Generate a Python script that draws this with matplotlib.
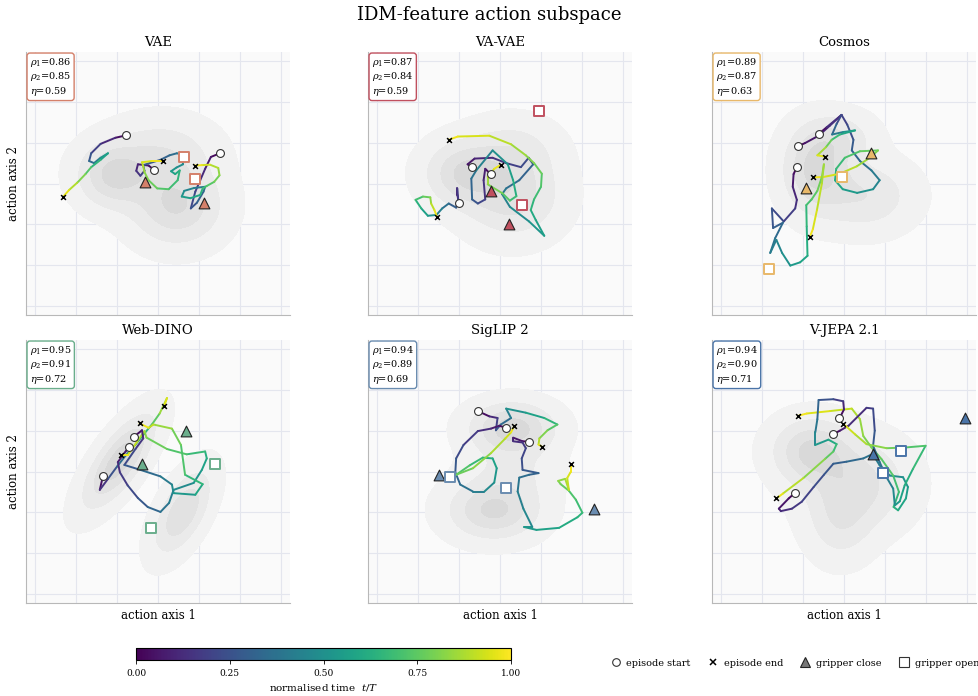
import numpy as np
import matplotlib.pyplot as plt
from matplotlib.collections import LineCollection
from matplotlib.lines import Line2D
from matplotlib.cm import ScalarMappable
from matplotlib.colors import Normalize

plt.rcParams["font.family"] = "DejaVu Serif"
plt.rcParams["mathtext.fontset"] = "dejavuserif"

MODELS = ["VAE", "VA-VAE", "Cosmos", "Web-DINO", "SigLIP 2", "V-JEPA 2.1"]
RHO1 = [0.86, 0.87, 0.89, 0.95, 0.94, 0.94]
RHO2 = [0.85, 0.84, 0.87, 0.91, 0.89, 0.90]
ETA = [0.59, 0.59, 0.63, 0.72, 0.69, 0.71]
MODEL_COLORS = ["#d4806a", "#c0505f", "#e8b86a", "#6aae8c", "#6a8cb0", "#4a74a8"]

# episodes: (action axis 1, action axis 2) from start to end
VAE_EPISODES = [
    [(-0.77, 1.18), (-1.04, 1.12), (-1.40, 0.97), (-1.63, 0.74), (-1.68, 0.55),
     (-1.56, 0.50), (-1.40, 0.63), (-1.22, 0.74), (-1.40, 0.58), (-1.63, 0.40),
     (-1.77, 0.23), (-1.97, 0.02), (-2.17, -0.16), (-2.31, -0.32)],
    [(-0.09, 0.33), (-0.23, 0.44), (-0.49, 0.47), (-0.53, 0.31), (-0.43, 0.19),
     (-0.33, 0.31), (-0.36, 0.45), (0.06, 0.58), (0.28, 0.69), (0.46, 0.74),
     (0.58, 0.71), (0.61, 0.47), (0.45, 0.39), (0.32, 0.30), (0.42, 0.23),
     (0.53, 0.32), (0.48, 0.08), (0.26, -0.14), (-0.02, -0.12), (-0.23, 0.08),
     (-0.33, 0.28), (-0.36, 0.42), (-0.39, 0.52), (-0.15, 0.55), (0.12, 0.55)],
    [(1.51, 0.74), (1.29, 0.65), (1.15, 0.36), (1.03, 0.08), (0.91, -0.20),
     (0.80, -0.61), (0.95, -0.47), (1.11, -0.20), (1.15, -0.08), (0.88, -0.11),
     (0.64, -0.18), (0.58, -0.32), (0.79, -0.36), (1.03, -0.28), (1.09, -0.12),
     (1.19, -0.06), (1.37, 0.04), (1.50, 0.20), (1.47, 0.38), (1.27, 0.46),
     (1.07, 0.45), (0.90, 0.44)],
]
VAE_CLOSE = [(-0.31, 0.04), (1.13, -0.47)]
VAE_OPEN = [(0.64, 0.64), (0.90, 0.10)]

VAVAE_EPISODES = [
    [(-1.00, -0.48), (-1.04, -0.28), (-1.04, -0.12), (-1.02, -0.40), (-1.07, -0.59),
     (-1.25, -0.49), (-1.41, -0.61), (-1.55, -0.77), (-1.76, -0.79), (-1.92, -0.61),
     (-2.06, -0.40), (-1.88, -0.32), (-1.70, -0.34), (-1.68, -0.49), (-1.60, -0.65),
     (-1.54, -0.81)],
    [(-0.68, 0.40), (-0.79, 0.47), (-0.62, 0.61), (-0.18, 0.63), (0.15, 0.50),
     (0.51, 0.40), (0.70, 0.63), (0.81, 0.47), (0.47, 0.08), (0.15, -0.12),
     (0.05, -0.26), (0.24, -0.57), (0.71, -0.93), (1.08, -1.28), (0.87, -0.89),
     (0.75, -0.65), (0.83, -0.39), (1.00, -0.08), (1.02, 0.24), (0.83, 0.50),
     (0.63, 0.69), (0.27, 0.96), (-0.26, 1.17), (-1.03, 1.15), (-1.25, 1.07)],
    [(-0.23, 0.23), (-0.36, 0.36), (-0.40, 0.08), (-0.36, -0.39), (-0.54, -0.49),
     (-0.68, -0.39), (-0.70, 0.12), (-0.58, 0.32), (-0.18, 0.81), (0.19, 0.47),
     (0.32, 0.08), (0.40, -0.31), (0.24, -0.42), (0.06, -0.24), (-0.30, -0.02),
     (-0.30, 0.16), (-0.14, 0.36), (0.02, 0.46)],
]
VAVAE_CLOSE = [(-0.23, -0.19), (0.22, -1.00)]
VAVAE_OPEN = [(0.94, 1.77), (0.53, -0.52)]

COSMOS_EPISODES = [
    [(-1.13, 0.91), (-0.95, 0.99), (-0.62, 1.17), (-0.34, 1.42), (-0.06, 1.68),
     (0.08, 1.44), (0.23, 1.07), (0.19, 0.81), (0.39, 0.55), (0.67, 0.32),
     (0.87, 0.08), (0.71, -0.14), (0.32, -0.23), (-0.03, -0.14), (-0.22, 0.08),
     (-0.19, 0.36), (0.02, 0.63), (0.39, 0.79), (0.83, 0.81), (0.63, 0.63),
     (0.31, 0.42), (-0.10, 0.24), (-0.50, 0.16), (-0.76, 0.15)],
    [(-0.62, 1.21), (-0.42, 1.38), (-0.06, 1.68), (-0.18, 1.46), (-0.29, 1.20),
     (-0.02, 1.26), (0.27, 1.30), (-0.10, 1.20), (-0.30, 1.07), (-0.44, 0.89),
     (-0.65, 0.69), (-0.47, 0.66)],
    [(-1.15, 0.40), (-1.23, 0.23), (-1.25, -0.08), (-1.15, -0.40), (-1.19, -0.61),
     (-1.47, -0.93), (-1.76, -0.61), (-1.73, -1.09), (-1.49, -0.96), (-1.68, -1.34),
     (-1.80, -1.70), (-1.65, -1.38), (-1.51, -1.70), (-1.31, -2.01), (-1.07, -1.93),
     (-0.89, -1.77), (-0.91, -1.05), (-0.92, -0.53), (-0.79, -0.39), (-0.65, -0.18),
     (-0.54, 0.16), (-0.49, 0.47), (-0.54, 0.00), (-0.66, -0.65), (-0.76, -1.12),
     (-0.83, -1.30)],
]
COSMOS_CLOSE = [(-0.92, -0.11), (0.67, 0.74)]
COSMOS_OPEN = [(-0.04, 0.17), (-1.84, -2.09)]

WEBDINO_EPISODES = [
    [(-1.34, -0.10), (-1.42, -0.45), (-1.22, -0.18), (-1.00, 0.12), (-0.79, 0.39),
     (-0.55, 0.66), (-0.35, 0.91), (-0.15, 1.15), (0.04, 1.42), (0.22, 1.80),
     (0.15, 1.60)],
    [(-0.70, 0.61), (-0.79, 0.49), (-0.98, 0.23), (-0.93, -0.02), (-0.74, -0.34),
     (-0.49, -0.65), (-0.25, -0.87), (0.06, -0.99), (0.27, -0.77), (0.38, -0.45),
     (0.87, -0.28), (1.07, 0.04), (1.19, 0.32), (1.15, 0.49), (0.70, 0.42),
     (0.22, 0.55), (-0.28, 0.83), (-0.33, 0.99), (-0.51, 0.73), (-0.74, 0.40),
     (-0.91, 0.40)],
    [(-0.59, 0.85), (-0.39, 1.01), (-0.36, 0.81), (-0.55, 0.55), (-0.82, 0.16),
     (-0.43, 0.04), (0.06, -0.12), (0.34, -0.32), (0.38, -0.53), (0.91, -0.57),
     (1.09, -0.31), (0.66, -0.08), (0.56, 0.65), (0.34, 1.05), (-0.11, 1.15),
     (-0.23, 1.07), (-0.45, 1.18)],
]
WEBDINO_CLOSE = [(0.68, 0.99), (-0.40, 0.18)]
WEBDINO_OPEN = [(1.38, 0.18), (-0.17, -1.39)]

SIGLIP_EPISODES = [
    [(-0.54, 1.48), (-0.26, 1.35), (-0.06, 1.31), (-0.10, 1.01), (0.02, 1.15),
     (0.27, 1.31), (0.15, 1.54), (0.63, 1.44), (1.08, 1.31), (1.40, 1.15),
     (1.16, 1.01), (0.96, 0.81), (0.94, 0.66), (1.02, 0.61)],
    [(0.15, 1.07), (-0.02, 1.12), (-0.22, 1.05), (-0.54, 0.99), (-0.89, 0.65),
     (-1.07, 0.32), (-1.09, -0.02), (-0.97, -0.32), (-0.66, -0.49), (-0.38, -0.49),
     (-0.14, -0.27), (-0.08, 0.08), (-0.18, 0.32), (-0.42, 0.34), (-0.74, 0.15),
     (-1.07, -0.08), (-0.66, 0.08), (-0.22, 0.45), (0.13, 0.81), (0.27, 0.96),
     (0.35, 1.12)],
    [(0.71, 0.73), (0.55, 0.74), (0.32, 0.83), (0.32, 0.74), (0.55, 0.71),
     (0.63, 0.57), (0.53, 0.32), (0.55, 0.04), (0.94, -0.04), (0.71, -0.08),
     (0.47, -0.15), (0.43, -0.49), (0.57, -0.91), (0.79, -1.36), (0.59, -1.36),
     (0.89, -1.43), (1.44, -1.38), (1.89, -1.12), (2.01, -1.01), (1.85, -0.69),
     (1.68, -0.47), (1.48, -0.31), (1.42, -0.23), (1.59, -0.18), (1.68, -0.45),
     (1.64, -0.16), (1.73, 0.00), (1.73, 0.19)],
]
SIGLIP_CLOSE = [(-1.50, -0.08), (2.29, -0.93)]
SIGLIP_OPEN = [(-1.23, -0.14), (0.15, -0.40)]

VJEPA_EPISODES = [
    [(-1.19, -0.52), (-1.35, -0.66), (-1.59, -0.91), (-1.54, -0.97), (-1.27, -0.91),
     (-1.03, -0.74), (-0.74, -0.38), (-0.49, -0.08), (-0.26, 0.19), (0.06, 0.24),
     (0.47, 0.32), (0.70, 0.43), (0.87, 0.15), (1.12, -0.10), (1.44, -0.14),
     (1.56, -0.38), (1.51, -0.66), (1.32, -0.95), (1.21, -0.87), (1.34, -0.50),
     (1.20, -0.10), (0.91, 0.31), (0.67, 0.59), (0.47, 0.87), (0.39, 1.28),
     (0.19, 1.54), (-0.34, 1.48), (-0.91, 1.42), (-1.13, 1.36)],
    [(-0.11, 1.30), (0.00, 1.52), (-0.02, 1.72), (-0.26, 1.77), (-0.62, 1.75),
     (-0.65, 1.28), (-0.70, 0.96), (-0.70, 0.65), (-0.38, 0.78), (-0.18, 0.67),
     (-0.26, 0.49), (-0.46, 0.31), (-0.99, -0.16), (-1.49, -0.54), (-1.65, -0.66)],
    [(-0.27, 0.91), (-0.10, 1.00), (0.11, 1.12), (0.55, 1.56), (0.71, 1.54),
     (0.75, 1.00), (0.71, 0.63), (0.87, 0.23), (1.02, -0.11), (1.20, -0.42),
     (1.24, -0.83), (1.36, -0.73), (1.48, -0.34), (1.68, 0.06), (1.99, 0.63),
     (1.52, 0.59), (1.04, 0.57), (0.55, 0.67), (0.27, 0.91), (0.06, 1.10),
     (-0.02, 1.16)],
]
VJEPA_CLOSE = [(0.70, 0.43), (2.96, 1.30)]
VJEPA_OPEN = [(1.38, 0.49), (0.96, -0.04)]

# density modes of the full feature cloud: x, y, long sd, short sd, angle (deg), weight
VAE_DENSITY = [(-1.1, 0.2, 0.55, 0.5, 0, 1.0), (0.45, -0.55, 0.7, 0.6, 0, 1.0),
               (0.1, 0.7, 0.8, 0.55, 0, 0.6)]
VAVAE_DENSITY = [(-0.9, 0.25, 0.6, 0.5, 0, 1.0), (0.3, -0.3, 0.75, 0.65, 0, 0.9),
                 (0.3, 0.8, 0.7, 0.5, 0, 0.5)]
COSMOS_DENSITY = [(-0.7, 0.35, 0.5, 0.65, 0, 1.0), (0.5, -0.3, 0.75, 0.55, 0, 0.6),
                  (-0.1, 1.1, 0.55, 0.4, 0, 0.5)]
WEBDINO_DENSITY = [(-0.95, 0.25, 0.85, 0.32, 55, 1.0), (0.6, -1.0, 0.72, 0.33, 62, 0.8)]
SIGLIP_DENSITY = [(0.3, 1.05, 0.65, 0.4, 0, 1.0), (-0.15, -0.95, 0.7, 0.45, 0, 0.9),
                  (0.3, 0.0, 0.7, 0.45, 0, 0.3)]
VJEPA_DENSITY = [(-0.8, 0.5, 0.6, 0.5, 0, 1.0), (0.3, -0.3, 0.8, 0.7, 0, 0.8),
                 (-0.1, -1.3, 0.5, 0.6, 0, 0.45)]

PANELS = [
    (VAE_EPISODES, VAE_CLOSE, VAE_OPEN, VAE_DENSITY),
    (VAVAE_EPISODES, VAVAE_CLOSE, VAVAE_OPEN, VAVAE_DENSITY),
    (COSMOS_EPISODES, COSMOS_CLOSE, COSMOS_OPEN, COSMOS_DENSITY),
    (WEBDINO_EPISODES, WEBDINO_CLOSE, WEBDINO_OPEN, WEBDINO_DENSITY),
    (SIGLIP_EPISODES, SIGLIP_CLOSE, SIGLIP_OPEN, SIGLIP_DENSITY),
    (VJEPA_EPISODES, VJEPA_CLOSE, VJEPA_OPEN, VJEPA_DENSITY),
]

LIM = 3.22
cmap = plt.get_cmap("viridis")
norm = Normalize(0, 1)


def density(modes, xx, yy):
    z = np.zeros_like(xx)
    for cx, cy, sl, ss, ang, w in modes:
        a = np.deg2rad(ang)
        dx, dy = xx - cx, yy - cy
        u = dx * np.cos(a) + dy * np.sin(a)
        v = -dx * np.sin(a) + dy * np.cos(a)
        z += w * np.exp(-0.5 * ((u / sl) ** 2 + (v / ss) ** 2))
    return z


fig = plt.figure(figsize=(9.79, 6.96), dpi=100)
lefts = [26 / 979, 368 / 979, 712 / 979]
bottoms = [1 - 315 / 696, 1 - 603 / 696]
w, h = 264 / 979, 263 / 696

gx = np.linspace(-LIM, LIM, 220)
xx, yy = np.meshgrid(gx, gx)
grays = ["#f2f2f2", "#eaeaea", "#e2e2e2", "#d9d9d9"]

for i, (episodes, close, opened, modes) in enumerate(PANELS):
    ax = fig.add_axes([lefts[i % 3], bottoms[i // 3], w, h])
    ax.set_facecolor("#fafafa")
    color = MODEL_COLORS[i]

    z = density(modes, xx, yy)
    zmax = z.max()
    levels = [0.05 * zmax, 0.28 * zmax, 0.55 * zmax, 0.82 * zmax, 1.01 * zmax]
    ax.contourf(xx, yy, z, levels=levels, colors=grays, zorder=1)

    for ep in episodes:
        pts = np.asarray(ep)
        segs = np.stack([pts[:-1], pts[1:]], axis=1)
        t = np.linspace(0, 1, len(pts))
        lc = LineCollection(segs, cmap=cmap, norm=norm, linewidth=1.4,
                            capstyle="round", joinstyle="round", zorder=3)
        lc.set_array((t[:-1] + t[1:]) / 2)
        ax.add_collection(lc)
        ax.scatter(pts[0, 0], pts[0, 1], s=32, facecolor="white",
                   edgecolor="#333333", linewidth=0.8, zorder=5)
        ax.scatter(pts[-1, 0], pts[-1, 1], s=12, marker="x", color="black",
                   linewidth=1.1, zorder=5)

    close = np.asarray(close)
    opened = np.asarray(opened)
    ax.scatter(close[:, 0], close[:, 1], s=60, marker="^", facecolor=color,
               edgecolor="#222222", linewidth=0.8, zorder=6)
    ax.scatter(opened[:, 0], opened[:, 1], s=55, marker="s", facecolor="white",
               edgecolor=color, linewidth=1.4, zorder=6)

    ax.set_xlim(-LIM, LIM)
    ax.set_ylim(-LIM, LIM)
    ax.set_xticks(np.arange(-3, 4))
    ax.set_yticks(np.arange(-3, 4))
    ax.tick_params(length=0, labelbottom=False, labelleft=False)
    ax.grid(True, color="#e4e6ee", linewidth=0.8, zorder=0)
    ax.set_axisbelow(True)
    for side in ["top", "right"]:
        ax.spines[side].set_visible(False)
    for side in ["left", "bottom"]:
        ax.spines[side].set_color("#b8b8b8")
        ax.spines[side].set_linewidth(0.8)

    ax.set_title(MODELS[i], fontsize=9.5, pad=4)
    stats = (rf"$\rho_1$={RHO1[i]:.2f}" + "\n" + rf"$\rho_2$={RHO2[i]:.2f}"
             + "\n" + rf"$\eta$={ETA[i]:.2f}")
    ax.text(0.015, 0.985, stats, transform=ax.transAxes, fontsize=7, va="top",
            ha="left", linespacing=1.15, zorder=8,
            bbox=dict(boxstyle="round,pad=0.3", facecolor="white",
                      edgecolor=color, linewidth=1.0))
    if i % 3 == 0:
        ax.set_ylabel("action axis 2", fontsize=8.5, labelpad=4)
    if i // 3 == 1:
        ax.set_xlabel("action axis 1", fontsize=8.5, labelpad=4)

fig.suptitle("IDM-feature action subspace", fontsize=13, y=0.992)

cax = fig.add_axes([136 / 979, 1 - 660 / 696, 375 / 979, 12 / 696])
cb = fig.colorbar(ScalarMappable(norm=norm, cmap=cmap), cax=cax,
                  orientation="horizontal", ticks=[0, 0.25, 0.5, 0.75, 1.0],
                  format="%.2f")
cb.ax.tick_params(labelsize=6.5, length=3, width=0.6)
cb.outline.set_linewidth(0.8)
cb.set_label(r"normalised time  $t/T$", fontsize=7.5, labelpad=3)

handles = [
    Line2D([], [], linestyle="none", marker="o", markersize=5.5,
           markerfacecolor="white", markeredgecolor="#333333", markeredgewidth=0.8),
    Line2D([], [], linestyle="none", marker="x", markersize=4,
           color="black", markeredgewidth=1.1),
    Line2D([], [], linestyle="none", marker="^", markersize=7,
           markerfacecolor="#777777", markeredgecolor="#222222", markeredgewidth=0.8),
    Line2D([], [], linestyle="none", marker="s", markersize=6.5,
           markerfacecolor="white", markeredgecolor="#333333", markeredgewidth=0.8),
]
fig.legend(handles, ["episode start", "episode end", "gripper close", "gripper open"],
           loc="center", bbox_to_anchor=(0.812, 0.047), ncol=4, frameon=False,
           fontsize=7, handlelength=1.0, handletextpad=0.6, columnspacing=1.8)

fig.savefig("out.png", dpi=100)
